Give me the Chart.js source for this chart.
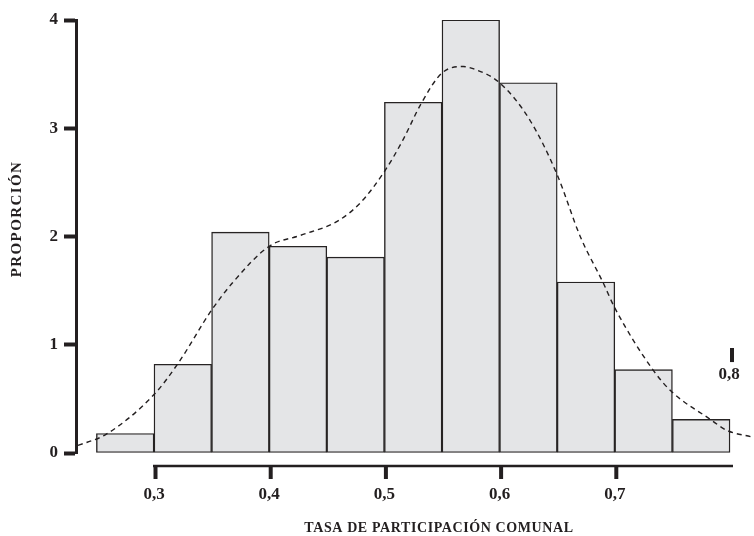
<!DOCTYPE html>
<html><head><meta charset="utf-8">
<script src="https://cdn.jsdelivr.net/npm/chart.js@4/dist/chart.umd.min.js"></script>
<style>html,body{margin:0;padding:0;background:#fff;}canvas{display:block;}</style>
</head><body>
<canvas id="c" width="754" height="536"></canvas>
<script>
// ---- data ----
const binCenters = [0.275, 0.325, 0.375, 0.425, 0.475, 0.525, 0.575, 0.625, 0.675, 0.725, 0.775];
const binHeights = [0.18, 0.82, 2.04, 1.91, 1.81, 3.24, 4.00, 3.42, 1.58, 0.77, 0.31];
const curveX = [0.234, 0.258, 0.300, 0.321, 0.350, 0.368, 0.400, 0.427, 0.459, 0.479, 0.500, 0.516, 0.532, 0.550, 0.5685, 0.577, 0.600, 0.626, 0.650, 0.670, 0.690, 0.700, 0.733, 0.749, 0.783, 0.797, 0.818];
const curveY = [0.07, 0.17, 0.54, 0.83, 1.32, 1.57, 1.91, 2.01, 2.14, 2.31, 2.60, 2.89, 3.23, 3.51, 3.57, 3.55, 3.42, 3.08, 2.57, 2.00, 1.57, 1.34, 0.77, 0.57, 0.31, 0.21, 0.15];
const xTickValues = [0.3, 0.4, 0.5, 0.6, 0.7];
const strayTickValue = 0.8;
const yTickValues = [0, 1, 2, 3, 4];
const xTitle = 'TASA DE PARTICIPACIÓN COMUNAL';
const yTitle = 'PROPORCIÓN';

// ---- style ----
const INK = '#231f20';
const SERIF = "'Liberation Serif', 'DejaVu Serif', serif";
const fmt = v => v.toFixed(1).replace('.', ',');

const axesPlugin = {
  id: 'customAxes',
  afterDraw(chart) {
    const ctx = chart.ctx, xs = chart.scales.x, ys = chart.scales.y;
    ctx.save();
    ctx.strokeStyle = INK;
    ctx.fillStyle = INK;
    const base = ys.getPixelForValue(0);
    const axisY = base + 13;
    // detached x axis line from first tick to 0.8
    ctx.lineWidth = 2.5;
    ctx.beginPath();
    ctx.moveTo(xs.getPixelForValue(xTickValues[0]) - 1, axisY);
    ctx.lineTo(xs.getPixelForValue(strayTickValue) + 3, axisY);
    ctx.stroke();
    // tick marks below
    ctx.lineWidth = 4;
    xTickValues.forEach(v => {
      const px = xs.getPixelForValue(v) + 1.5;
      ctx.beginPath();
      ctx.moveTo(px, axisY - 1);
      ctx.lineTo(px, axisY + 13);
      ctx.stroke();
    });
    // stray 0,8 tick and label
    const sx = xs.getPixelForValue(strayTickValue) + 2;
    ctx.beginPath();
    ctx.moveTo(sx, ys.getPixelForValue(0.97));
    ctx.lineTo(sx, ys.getPixelForValue(0.84));
    ctx.stroke();
    ctx.font = 'bold 17px ' + SERIF;
    ctx.textAlign = 'center';
    ctx.textBaseline = 'middle';
    ctx.fillText(fmt(strayTickValue), sx - 3, ys.getPixelForValue(0.72));
    // x title
    ctx.font = 'bold 14px ' + SERIF;
    try { ctx.letterSpacing = '0.6px'; } catch (e) {}
    ctx.fillText(xTitle, 439, 528);
    // y title
    ctx.translate(17, 219);
    ctx.rotate(-Math.PI / 2);
    ctx.font = 'bold 15px ' + SERIF;
    try { ctx.letterSpacing = '1.4px'; } catch (e) {}
    ctx.fillText(yTitle, 0, 0);
    ctx.restore();
  }
};

new Chart(document.getElementById('c'), {
  data: {
    datasets: [
      {
        type: 'line',
        order: 0,
        data: curveX.map((x, i) => ({x, y: curveY[i]})),
        borderColor: INK,
        borderWidth: 1.4,
        borderDash: [5, 4],
        pointRadius: 0,
        fill: false,
        cubicInterpolationMode: 'monotone'
      },
      {
        type: 'bar',
        order: 1,
        data: binCenters.map((x, i) => ({x, y: binHeights[i]})),
        backgroundColor: '#e4e5e7',
        borderColor: '#262323',
        borderWidth: 1.4,
        borderSkipped: false,
        barPercentage: 1,
        categoryPercentage: 1
      }
    ]
  },
  options: {
    responsive: false,
    animation: false,
    devicePixelRatio: 1,
    layout: {padding: {top: 20, left: 0, right: 0, bottom: 0}},
    plugins: {legend: {display: false}, tooltip: {enabled: false}},
    scales: {
      x: {
        type: 'linear',
        offset: false,
        min: 0.23229,
        max: 0.82083,
        afterFit: s => { s.height = 83; },
        afterBuildTicks: s => { s.ticks = xTickValues.map(v => ({value: v})); },
        grid: {display: false, drawTicks: false, offset: false},
        border: {display: false},
        ticks: {
          padding: 31,
          autoSkip: false,
          maxRotation: 0,
          color: INK,
          font: {family: SERIF, size: 17, weight: 'bold'},
          callback: v => fmt(v)
        }
      },
      y: {
        type: 'linear',
        min: 0,
        max: 4,
        afterFit: s => { s.width = 76; },
        afterBuildTicks: s => { s.ticks = yTickValues.map(v => ({value: v})); },
        grid: {drawOnChartArea: false, drawTicks: true, tickLength: 12, tickWidth: 4, tickColor: INK},
        border: {display: true, width: 3, color: INK},
        ticks: {
          padding: 6,
          color: INK,
          font: {family: SERIF, size: 17, weight: 'bold'},
          callback: v => String(v)
        }
      }
    }
  },
  plugins: [axesPlugin]
});
</script>
</body></html>
